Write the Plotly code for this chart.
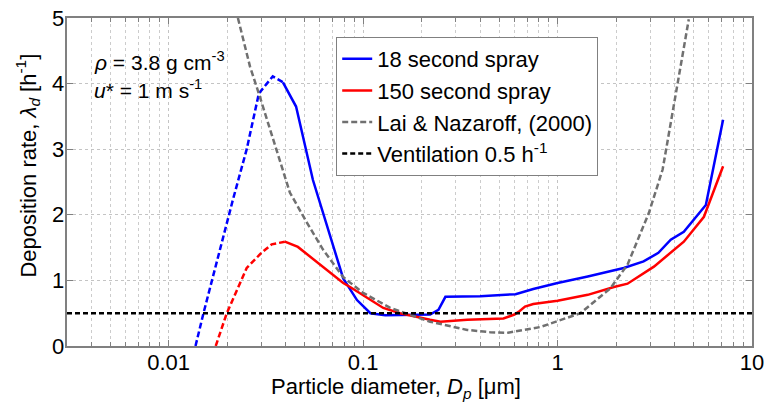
import plotly.graph_objects as go
import numpy as np

# ---- data ----
blue_dash_x = [0.01374, 0.0151, 0.0214, 0.0252, 0.0291, 0.0343, 0.0387]
blue_dash_y = [0.0, 0.5, 2.23, 3.0, 3.85, 4.11, 4.02]
blue_x = [0.0387, 0.0452, 0.0552, 0.0622, 0.070, 0.079, 0.093, 0.109, 0.13, 0.2, 0.221,
          0.244, 0.265, 0.40, 0.5, 0.608, 0.75, 1.0, 1.43, 2.19, 2.77, 3.3, 3.82, 4.46, 5.79, 7.1]
blue_y = [4.02, 3.65, 2.53, 2.03, 1.51, 1.03, 0.70, 0.50, 0.47, 0.47, 0.48,
          0.55, 0.75, 0.76, 0.77, 0.79, 0.87, 0.96, 1.06, 1.19, 1.29, 1.42, 1.62, 1.74, 2.15, 3.45]

red_dash_x = [0.01746, 0.0199, 0.0252, 0.030, 0.0339, 0.0396]
red_dash_y = [0.0, 0.5, 1.19, 1.42, 1.55, 1.59]
red_x = [0.0396, 0.0462, 0.079, 0.0857, 0.127, 0.155, 0.221, 0.25, 0.343, 0.527, 0.60, 0.63, 0.68,
         0.75, 1.0, 1.43, 1.95, 2.29, 3.13, 4.46, 5.66, 7.1]
red_y = [1.59, 1.51, 0.96, 0.90, 0.58, 0.50, 0.40, 0.37, 0.40, 0.42, 0.48, 0.52, 0.60,
         0.64, 0.69, 0.78, 0.90, 0.95, 1.21, 1.59, 1.97, 2.74]

lai_x = [0.0227, 0.0262, 0.029, 0.0332, 0.0387, 0.042, 0.0514, 0.0622, 0.079, 0.1, 0.138, 0.175,
         0.221, 0.343, 0.45, 0.55, 0.817, 1.31, 1.87, 2.29, 2.95, 3.47, 4.16, 4.73]
lai_y = [5.0, 4.26, 3.86, 3.31, 2.66, 2.34, 1.88, 1.47, 1.05, 0.81, 0.58, 0.47,
         0.37, 0.245, 0.21, 0.20, 0.29, 0.50, 0.88, 1.24, 2.03, 2.69, 4.01, 4.98]

vent_x = [0.003, 10]
vent_y = [0.5, 0.5]

x_tickvals = [0.01, 0.1, 1, 10]
x_ticktext = ["0.01", "0.1", "1", "10"]
y_tickvals = [0, 1, 2, 3, 4, 5]
y_ticktext = ["0", "1", "2", "3", "4", "5"]
x_minor_vals = [m * 10.0 ** k for k in range(-3, 1) for m in range(2, 10)]

FONT = "Liberation Sans, Arial, sans-serif"

fig = go.Figure()
fig.add_trace(go.Scatter(x=blue_dash_x, y=blue_dash_y, mode="lines",
                         line=dict(color="#0000ff", width=2.5, dash="6px,3px"), showlegend=False))
fig.add_trace(go.Scatter(x=red_dash_x, y=red_dash_y, mode="lines",
                         line=dict(color="#ff0000", width=2.5, dash="6px,3px"), showlegend=False))
fig.add_trace(go.Scatter(x=blue_x, y=blue_y, mode="lines", name="18 second spray",
                         line=dict(color="#0000ff", width=2.5)))
fig.add_trace(go.Scatter(x=red_x, y=red_y, mode="lines", name="150 second spray",
                         line=dict(color="#ff0000", width=2.5)))
fig.add_trace(go.Scatter(x=lai_x, y=lai_y, mode="lines", name="Lai & Nazaroff, (2000)",
                         line=dict(color="#707070", width=2.5, dash="6px,3px")))
fig.add_trace(go.Scatter(x=vent_x, y=vent_y, mode="lines", name="Ventilation 0.5 h<sup>-1</sup>",
                         line=dict(color="#000000", width=2.5, dash="5px,3px")))

annotations = [
    dict(text="<i>ρ</i> = 3.8 g cm<sup>-3</sup>", xref="paper", yref="paper",
         x=0.036, y=0.868, xanchor="left", yanchor="middle", showarrow=False,
         font=dict(size=21)),
    dict(text="<i>u</i>* = 1 m s<sup>-1</sup>", xref="paper", yref="paper",
         x=0.036, y=0.785, xanchor="left", yanchor="middle", showarrow=False,
         font=dict(size=21)),
    dict(text="Particle diameter, <i>D<sub>p</sub></i> [μm]", xref="paper", yref="paper",
         x=0.48, y=-0.128, xanchor="center", yanchor="middle", showarrow=False,
         font=dict(size=22)),
    dict(text="Deposition rate, <i>λ<sub>d</sub></i> [h<sup>-1</sup>]", xref="paper", yref="paper",
         x=-0.0569, y=0.55, xanchor="center", yanchor="middle", showarrow=False,
         textangle=-90, font=dict(size=22)),
]
# y tick labels placed on the y scale, snug against the axis as in the original
for v, t in zip(y_tickvals, y_ticktext):
    annotations.append(dict(text=t, xref="paper", yref="y", x=0, y=v, xshift=-1,
                            xanchor="right", yanchor="middle", showarrow=False,
                            font=dict(size=22)))

fig.update_layout(
    width=767, height=410,
    margin=dict(l=67, r=15, t=18, b=64),
    paper_bgcolor="white", plot_bgcolor="white",
    font=dict(family=FONT, size=21, color="black"),
    legend=dict(x=0.393, y=0.942, xanchor="left", yanchor="top",
                bgcolor="white", bordercolor="#808080", borderwidth=1,
                font=dict(size=22), tracegroupgap=0, itemwidth=30),
    annotations=annotations,
)
fig.update_xaxes(
    type="log", range=[np.log10(0.003), 1], automargin=False,
    tickvals=x_tickvals, ticktext=x_ticktext,
    ticks="inside", ticklen=6, tickcolor="#808080", ticklabelstandoff=-4,
    showline=True, linecolor="#808080", linewidth=1.5, mirror="ticks",
    showgrid=True, gridcolor="#c4c4c4", griddash="dot", gridwidth=1,
    minor=dict(tickmode="array", tickvals=x_minor_vals, ticks="inside", ticklen=4, tickcolor="#808080",
               showgrid=True, gridcolor="#cccccc", griddash="dot", gridwidth=1),
    zeroline=False,
    tickfont=dict(size=22),
)
fig.update_yaxes(
    range=[0, 5], tickvals=y_tickvals, automargin=False, showticklabels=False,
    ticks="inside", ticklen=6, tickcolor="#808080",
    showline=True, linecolor="#808080", linewidth=1.5, mirror="ticks",
    showgrid=True, gridcolor="#c4c4c4", griddash="dot", gridwidth=1,
    zeroline=False,
)

fig.write_html("out.html", config={"displayModeBar": False})

# remove default page margin so the figure sits at the window's top-left corner
with open("out.html", "r", encoding="utf-8") as f:
    html = f.read()
html = html.replace("<head>", "<head><style>html,body{margin:0;padding:0;}</style>", 1)
with open("out.html", "w", encoding="utf-8") as f:
    f.write(html)
